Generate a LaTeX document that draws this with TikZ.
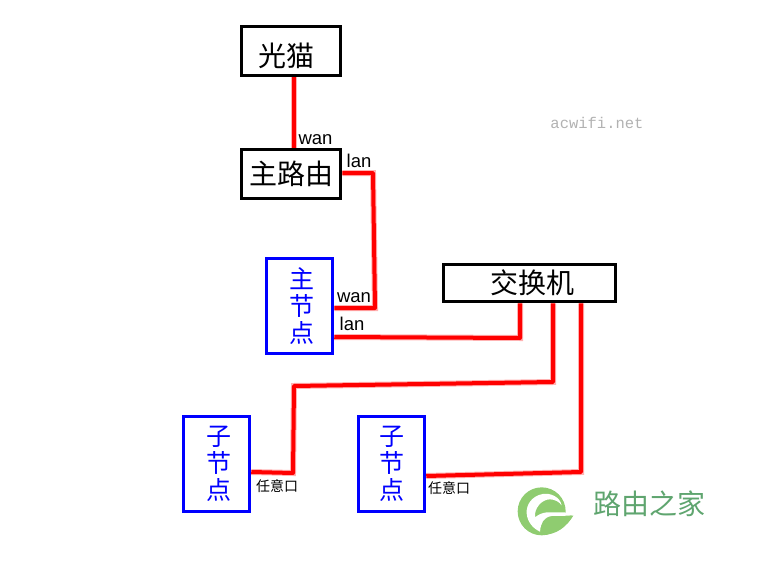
\documentclass[tikz,border=0pt]{standalone}
\usepackage{fontspec}
\setmainfont{Liberation Sans}
\setmonofont{Liberation Mono}
\newfontfamily\cjk{Noto Sans CJK SC}
\usetikzlibrary{positioning}
\definecolor{logogreen}{HTML}{8FCC70}
\definecolor{logotext}{HTML}{5FA56F}
\begin{document}
\begin{tikzpicture}[x=1pt,y=-1pt,
    blackbox/.style={draw=black,line width=3.5pt,inner sep=0pt,font=\cjk\fontsize{28}{28}\selectfont},
    bluebox/.style={draw=blue,line width=3.5pt,inner sep=0pt,minimum width=66pt,minimum height=95pt,
        align=center,text=blue,font=\cjk\fontsize{25}{26.8}\selectfont},
    cable/.style={draw=red,line width=4pt,line join=round,preaction={draw=red!30,line width=6pt}},
    port/.style={inner sep=0pt,font=\fontsize{18.5}{18.5}\selectfont},
    anyport/.style={inner sep=0pt,font=\cjk\fontsize{14}{14}\selectfont}]
    \useasboundingbox (0,0) rectangle (763,567);
    % boxes
    \node [blackbox,minimum width=99pt,minimum height=49pt] (modem) at (291,51) {\rule{0pt}{33pt}光猫\hspace*{10pt}};
    \node [blackbox,minimum width=99pt,minimum height=49pt] (router) at (291,174) {主路由};
    \node [bluebox] (mainnode) at (299.5,306) {\hspace*{5pt}主\\\hspace*{5pt}节\\\hspace*{5pt}点};
    \node [blackbox,minimum width=172pt,minimum height=37pt] (switch) at (529.5,283) {\hspace*{5pt}交换机};
    \node [bluebox] (subleft) at (216.5,464) {\hspace*{4pt}子\\\hspace*{4pt}节\\\hspace*{4pt}点};
    \node [bluebox] (subright) at (391.5,464) {子\\节\\点};
    % bends
    \coordinate (b1) at (373,173);
    \coordinate (b2) at (375,308);
    \coordinate (b3) at (520,338);
    \coordinate (b4) at (553,382);
    \coordinate (b5) at (294,386);
    \coordinate (b6) at (293,473);
    \coordinate (b7) at (581,472);
    % cables
    \path [cable] ([xshift=3pt]modem.south) -- ([xshift=3pt]router.north);
    \path [cable] ([yshift=1pt]router.east) -- (b1) -- (b2) -- ([yshift=-2pt]mainnode.east);
    \path [cable] ([yshift=-31pt]mainnode.east) -- (b3) -- (b3 |- switch.south);
    \path [cable] (b4 |- switch.south) -- (b4) -- (b5) -- (b6) -- ([yshift=-8pt]subleft.east);
    \path [cable] (b7 |- switch.south) -- (b7) -- ([yshift=-12pt]subright.east);
    % labels
    \node [port] (lwan1) at (315.5,139.5) {wan};
    \node [port] (llan1) at (359,161) {lan};
    \node [port] (lwan2) at (354,297.5) {wan};
    \node [port] (llan2) at (352,324) {lan};
    \node [anyport] (lany1) at (277,486) {任意口};
    \node [anyport] (lany2) at (449,488) {任意口};
    \node [font=\ttfamily\fontsize{15.5}{15.5}\selectfont,text=black!30,inner sep=0pt] (mark) at (597,123) {acwifi.net};
    % logo
    \begin{scope}[shift={(510,480)},x=0.3333pt,y=-0.3333pt]
        \fill [logogreen] (95,94) circle (24pt);
        \fill [logogreen] (120,100) -- (190,107) .. controls (170,140) and (140,165) .. (95,165) -- cycle;
        \fill [white] (155,76) .. controls (150,50) and (120,38) .. (98,42)
            .. controls (65,48) and (48,75) .. (50,100)
            .. controls (52,125) and (68,145) .. (90,155)
            .. controls (92,130) and (100,112) .. (125,108) -- (180,107)
            -- (165,97) -- (110,97) .. controls (95,99) and (85,104) .. (75,112)
            .. controls (72,85) and (95,58) .. (120,58)
            .. controls (135,58) and (148,66) .. (155,76) -- cycle;
    \end{scope}
    \node [font=\cjk\fontsize{28}{28}\selectfont,text=logotext,inner sep=0pt] (logotitle) at (649,504) {路由之家};
\end{tikzpicture}
\end{document}
